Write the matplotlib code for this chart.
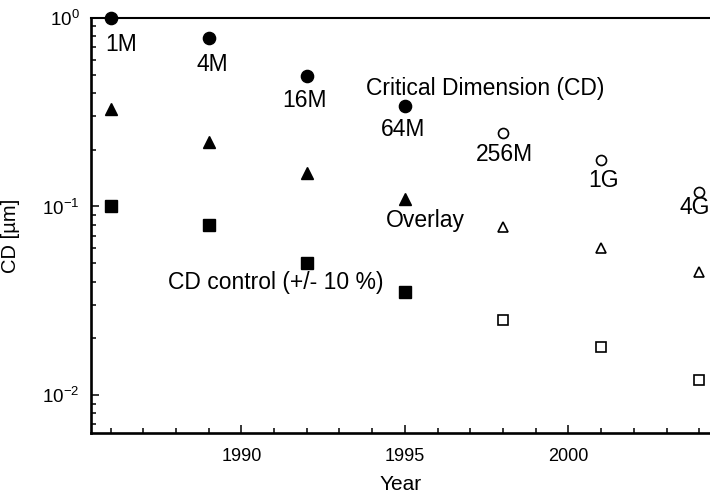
import matplotlib
matplotlib.use("Agg")
import matplotlib.pyplot as plt
from matplotlib.ticker import MultipleLocator, LogLocator, NullFormatter

plt.rcParams["font.family"] = ["Liberation Sans", "DejaVu Sans"]
plt.rcParams["mathtext.default"] = "regular"

# data
years = [1986, 1989, 1992, 1995, 1998, 2001, 2004]
n_filled = 4  # first four points are filled, the rest open (projected)
cd = [1.0, 0.78, 0.49, 0.34, 0.245, 0.176, 0.12]
overlay = [0.33, 0.22, 0.15, 0.11, 0.078, 0.06, 0.045]
cd_control = [0.1, 0.08, 0.05, 0.035, 0.025, 0.018, 0.012]
dram_labels = ["1M", "4M", "16M", "64M", "256M", "1G", "4G"]
dram_label_pos = [(1986.34, 0.72), (1989.11, 0.565), (1991.93, 0.364),
                  (1994.94, 0.255), (1998.04, 0.188), (2001.08, 0.137),
                  (2003.39, 0.099)]

fig = plt.figure(figsize=(7.10, 4.94), dpi=100)
ax = fig.add_axes([0.128, 0.1235, 0.872, 0.8405])

series = [(cd, "o", 8.8, 7.2), (overlay, "^", 8.8, 7.4), (cd_control, "s", 8.0, 6.8)]
for vals, mk, ms_fill, ms_open in series:
    ax.plot(years[:n_filled], vals[:n_filled], linestyle="none", marker=mk,
            markersize=ms_fill, color="black", clip_on=False, zorder=3)
    ax.plot(years[n_filled:], vals[n_filled:], linestyle="none", marker=mk,
            markersize=ms_open, markerfacecolor="white", markeredgecolor="black",
            markeredgewidth=1.2, clip_on=False, zorder=3)

fs = 16.5
for lab, (x, y) in zip(dram_labels, dram_label_pos):
    ha = "left" if lab == "4G" else "center"
    ax.text(x, y, lab, fontsize=fs, ha=ha, va="center", clip_on=False)

ax.text(1997.47, 0.421, "Critical Dimension (CD)", fontsize=fs, ha="center", va="center")
ax.text(1995.64, 0.0843, "Overlay", fontsize=fs, ha="center", va="center")
ax.text(1991.05, 0.0396, "CD control (+/- 10 %)", fontsize=fs, ha="center", va="center")

ax.set_yscale("log")
ax.set_ylim(0.0063, 1.0)
ax.set_xlim(1985.4, 2004.33)

ax.xaxis.set_major_locator(MultipleLocator(5))
ax.xaxis.set_minor_locator(MultipleLocator(1))
ax.yaxis.set_major_locator(LogLocator(base=10))
ax.yaxis.set_minor_locator(LogLocator(base=10, subs=range(2, 10)))
ax.yaxis.set_minor_formatter(NullFormatter())

ax.tick_params(which="both", direction="in", top=False, right=False, width=1.1)
ax.tick_params(which="major", length=5.8)
ax.tick_params(which="minor", length=3.3)
ax.tick_params(axis="x", which="major", labelsize=13, pad=11)
ax.tick_params(axis="y", which="major", labelsize=13.5, pad=8)

for side in ["left", "bottom"]:
    ax.spines[side].set_linewidth(1.9)
ax.spines["top"].set_linewidth(1.5)
ax.spines["right"].set_visible(False)

ax.set_xlabel("Year", fontsize=15, labelpad=7)
ax.set_ylabel("CD [\u00b5m]", fontsize=14.5)
ax.yaxis.set_label_coords(-0.115, 0.475)

fig.savefig("out.png", dpi=100, facecolor="white")
